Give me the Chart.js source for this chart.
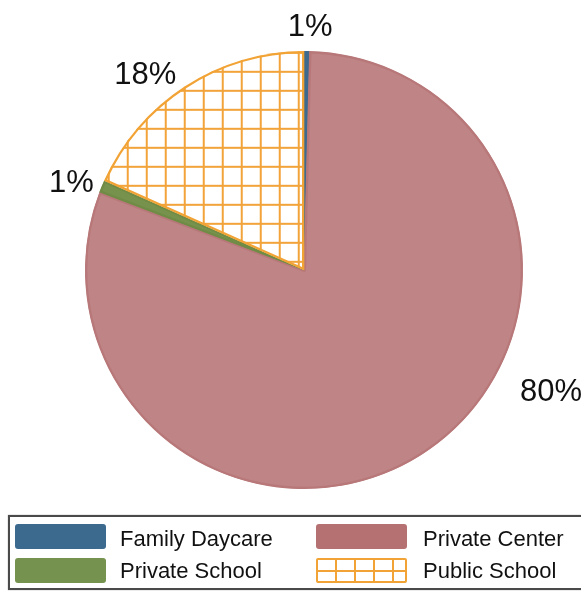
<!DOCTYPE html>
<html>
<head>
<meta charset="utf-8">
<script src="https://cdn.jsdelivr.net/npm/chart.js@4.4.1/dist/chart.umd.min.js"></script>
<style>
  html, body { margin: 0; padding: 0; background: #fff; }
  #wrap { position: relative; width: 581px; height: 591px; overflow: hidden; }
  #chartBox { position: absolute; left: 0; top: 0; width: 581px; height: 591px; }
  #legend { position: absolute; left: 8px; top: 515px; width: 600px; height: 71px;
    border: 2px solid #4a4a4a; box-shadow: 0 0 1px #888; background: #fff; box-sizing: content-box; }
  .sw { position: absolute; width: 91px; height: 25px; border-radius: 3px; }
  .lb { position: absolute; font-family: "Liberation Sans", Arial, sans-serif; font-size: 22px;
    line-height: 22px; color: #111; white-space: nowrap; }
</style>
</head>
<body>
<div id="wrap">
  <div id="chartBox"><canvas id="c"></canvas></div>
  <div id="legend"></div>
</div>
<script>
const categories = ["Family Daycare", "Private Center", "Private School", "Public School"];
const shares = [0.4, 80.4, 0.9, 18.3];
const labelTexts = ["1%", "80%", "1%", "18%"];

const pieColors = ["#3E6A8E", "#BF8486", "#76924C", null];
const borderColors = ["#3E6A8E", "#B87879", "#6F8B45", "#F2A335"];
const legendColors = ["#3C6A8F", "#B57172", "#76924F", null];
// label placement offsets relative to pie radius (dx, dy)
const labelOffsets = [[0.028, -1.117], [1.128, 0.546], [-1.062, -0.408], [-0.725, -0.902]];

function makeHatch() {
  const s = 19;
  const pc = document.createElement('canvas');
  pc.width = s; pc.height = s;
  const g = pc.getContext('2d');
  g.fillStyle = '#ffffff';
  g.fillRect(0, 0, s, s);
  g.fillStyle = '#F2A33A';
  g.fillRect(0, 0, 2, s);
  g.fillRect(0, 0, s, 2);
  const ctx = document.getElementById('c').getContext('2d');
  const p = ctx.createPattern(pc, 'repeat');
  if (p.setTransform) p.setTransform(new DOMMatrix().translate(12.7, 13.8));
  return p;
}
pieColors[3] = makeHatch();

const labelPlugin = {
  id: 'pctLabels',
  afterDraw(chart) {
    const meta = chart.getDatasetMeta(0);
    const ctx = chart.ctx;
    const fs = 31;
    ctx.save();
    ctx.font = fs + 'px "Liberation Sans", Arial, sans-serif';
    ctx.fillStyle = '#111';
    ctx.textAlign = 'center';
    ctx.textBaseline = 'alphabetic';
    meta.data.forEach((arc, i) => {
      const r = arc.outerRadius;
      const x = arc.x + labelOffsets[i][0] * r;
      const y = arc.y + labelOffsets[i][1] * r;
      ctx.fillText(labelTexts[i], x, y + 0.358 * fs);
    });
    ctx.restore();
  }
};

new Chart(document.getElementById('c'), {
  type: 'pie',
  data: {
    labels: categories,
    datasets: [{
      data: shares,
      backgroundColor: pieColors,
      borderColor: borderColors,
      borderWidth: 2,
      borderAlign: 'inner'
    }]
  },
  options: {
    responsive: true,
    maintainAspectRatio: false,
    animation: false,
    layout: { padding: { left: 85, right: 58, top: 51, bottom: 102 } },
    plugins: { legend: { display: false }, tooltip: { enabled: false } }
  },
  plugins: [labelPlugin]
});

// HTML legend
const legend = document.getElementById('legend');
const cols = [[5, 110], [306, 413]];
const rows = [[7, 11.4], [40.7, 43.4]];
categories.forEach((name, i) => {
  const col = cols[i % 2], row = rows[Math.floor(i / 2)];
  const sw = document.createElement('div');
  sw.className = 'sw';
  sw.style.left = col[0] + 'px';
  sw.style.top = row[0] + 'px';
  if (legendColors[i]) {
    sw.style.background = legendColors[i];
  } else {
    sw.style.boxSizing = 'border-box';
    sw.style.border = '2px solid #F2A335';
    sw.style.borderRadius = '2px';
    sw.style.background =
      'linear-gradient(to bottom, transparent 0 10px, #F2A335 10px 12px, transparent 12px), ' +
      'repeating-linear-gradient(90deg, transparent 0 17px, #F2A335 17px 19px), #fff';
  }
  legend.appendChild(sw);
  const lb = document.createElement('div');
  lb.className = 'lb';
  lb.style.left = col[1] + 'px';
  lb.style.top = row[1] + 'px';
  lb.textContent = name;
  legend.appendChild(lb);
});
</script>
</body>
</html>
